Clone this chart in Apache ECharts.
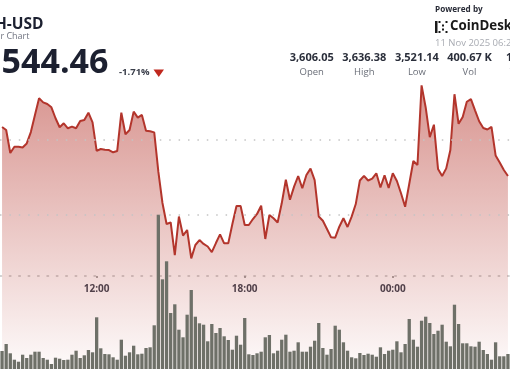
<!DOCTYPE html>
<html><head><meta charset="utf-8">
<script src="https://cdn.jsdelivr.net/npm/echarts@6/dist/echarts.min.js"></script>
<style>html,body{margin:0;padding:0;background:#fff;}#c{width:510px;height:369px;}</style>
</head><body><div id="c"></div>
<script>
// 10-minute samples starting 08:10
const startTime = '08:10';
const stepMinutes = 10;
const price = [
3608.7,3606.7,3591.3,3595.5,3595.5,3595.0,3597.7,3605.3,3616.7,3627.8,
3625.1,3624.0,3621.8,3614.5,3608.5,3611.1,3607.8,3608.9,3607.8,3612.7,
3613.3,3618.2,3611.8,3592.7,3594.0,3593.5,3593.3,3591.8,3592.7,3618.2,
3603.8,3606.7,3618.9,3614.9,3616.7,3606.2,3605.8,3605.1,3578.9,3558.0,
3544.0,3545.0,3523.3,3549.0,3536.3,3540.0,3521.1,3530.0,3533.3,3530.7,
3529.0,3525.3,3531.3,3537.1,3531.1,3531.1,3544.0,3556.0,3556.0,3543.3,
3543.3,3547.3,3550.7,3556.2,3534.0,3550.0,3547.8,3545.0,3557.8,3573.5,
3560.2,3568.9,3576.0,3567.8,3576.7,3580.9,3573.3,3549.0,3546.2,3540.7,
3535.1,3534.9,3542.2,3547.8,3542.0,3548.9,3557.3,3573.0,3576.1,3573.0,
3574.2,3577.8,3568.3,3576.5,3568.0,3577.8,3572.7,3564.5,3555.5,3570.7,
3586.0,3583.3,3636.4,3621.7,3601.9,3610.2,3580.7,3576.0,3581.1,3593.3,
3630.5,3610.8,3615.3,3625.5,3627.3,3619.8,3612.5,3608.0,3607.0,3608.7,
3589.7,3585.0,3580.0,3576.0
];
// volume in thousands
const volume = [
1.8,2.5,1.57,0.93,0.73,1.43,1.1,1.43,1.73,1.73,
1.1,0.93,0.5,1.13,1.03,0.9,0.93,1.43,1.83,1.1,
1.37,1.9,1.67,5.17,2.07,1.5,1.47,1.17,0.93,2.93,
1.33,1.67,2.33,1.47,1.53,2.1,2.17,4.37,15.43,8.97,
10.77,5.6,6.47,3.93,3.17,5.43,7.9,5.23,4.57,4.43,
2.77,4.5,3.6,4.1,3.27,2.9,1.93,3.33,2.43,5.1,
1.47,1.4,1.57,1.73,3.17,3.4,1.57,1.83,2.93,3.43,
1.73,1.83,2.67,1.73,1.73,2.23,2.83,4.6,2.1,1.43,
2.0,4.33,3.93,2.67,1.83,1.17,1.07,1.6,1.4,1.53,
1.43,1.23,2.17,1.5,1.83,1.93,2.77,1.67,2.5,5.0,
2.93,2.23,4.83,5.23,4.6,3.5,3.83,4.43,2.73,2.27,
6.43,4.5,2.57,2.57,2.27,2.23,2.73,1.9,1.5,0.93,
2.67,1.27,1.27,1.5
];
const tickLabels = ['12:00','18:00','00:00'];
const gridLines = [3550, 3600];
const stats = [['3,606.05','Open'],['3,636.38','High'],['3,521.14','Low'],['400.67 K','Vol'],['1.45 B','Value']];

const [sh, sm] = startTime.split(':').map(Number);
const times = price.map((_, i) => {
  const m = (sh * 60 + sm + i * stepMinutes) % 1440;
  return String(Math.floor(m / 60)).padStart(2, '0') + ':' + String(m % 60).padStart(2, '0');
});

const FONT = '"Open Sans", "Noto Sans", sans-serif';
function T(text, x, y, size, weight, color, align) {
  return { type: 'text', x: x, y: y, silent: true, z: 10,
    style: { text: text, font: weight + ' ' + size + 'px ' + FONT, fill: color, align: align || 'left', verticalAlign: 'top' } };
}
const graphics = [
  T('ETH-USD', 43.5, 16.8, 15.5, 'bold', '#1c2030', 'right'),
  T('ETH / US Dollar Chart', 29.5, 32.3, 9, 'normal', '#707480', 'right'),
  T('3,544.46', 108.5, 46.6, 34, 'bold', '#1c2030', 'right'),
  T('-1.71%', 119, 67.2, 9.5, 'bold', '#3a3e4a', 'left'),
  { type: 'polygon', silent: true, z: 10, shape: { points: [[153.5, 69.5], [164, 69.5], [158.75, 77]] }, style: { fill: '#c0281e' } },
  T('Powered by', 435, 5.6, 8.2, 'bold', '#2a2d38', 'left'),
  T('CoinDesk', 450, 19.8, 13.3, 'bold', '#1a1a1a', 'left'),
  T('11 Nov 2025 06:20 UTC', 435, 38.6, 9.5, 'normal', '#a8abb2', 'left'),
  { type: 'rect', silent: true, z: 10, shape: { x: 435, y: 21, width: 2.5, height: 12 }, style: { fill: '#1a1a1a' } },
  { type: 'rect', silent: true, z: 10, shape: { x: 438.5, y: 21, width: 2, height: 2 }, style: { fill: '#1a1a1a' } },
  { type: 'rect', silent: true, z: 10, shape: { x: 438.5, y: 31, width: 2, height: 2 }, style: { fill: '#1a1a1a' } },
  { type: 'rect', silent: true, z: 10, shape: { x: 442, y: 24.5, width: 2, height: 2 }, style: { fill: '#1a1a1a' } },
  { type: 'rect', silent: true, z: 10, shape: { x: 442, y: 28.5, width: 2, height: 2 }, style: { fill: '#1a1a1a' } },
  { type: 'rect', silent: true, z: 10, shape: { x: 445.5, y: 21, width: 2, height: 2 }, style: { fill: '#1a1a1a' } },
  { type: 'rect', silent: true, z: 10, shape: { x: 445.5, y: 31, width: 2, height: 2 }, style: { fill: '#1a1a1a' } }
];
stats.forEach((s, i) => {
  const cx = 311.7 + i * 52.6;
  graphics.push(T(s[0], cx, 52.8, 11, 'bold', '#2a2e3a', 'center'));
  graphics.push(T(s[1], cx, 66.8, 9.5, 'normal', '#6a6e78', 'center'));
});

const GL = -4.0, GR = -5.6;
const dotType = [1.5, 7.9];
const chart = echarts.init(document.getElementById('c'), null, { renderer: 'canvas' });
chart.setOption({
  animation: false,
  backgroundColor: '#ffffff',
  grid: [
    { left: GL, right: GR, top: 65, bottom: 0 },
    { left: GL, right: GR, top: 209, bottom: 0 },
    { left: GL, right: GR, top: 256, height: 20 }
  ],
  xAxis: [
    { type: 'category', gridIndex: 0, data: times, show: false, boundaryGap: true },
    { type: 'category', gridIndex: 1, data: times, show: false, boundaryGap: true },
    { type: 'category', gridIndex: 2, data: times, boundaryGap: true,
      axisLine: { show: true, lineStyle: { color: '#c2c2c2', width: 1.5, type: dotType } },
      axisTick: { show: true, alignWithLabel: true, interval: (i, v) => tickLabels.includes(v), length: 2, lineStyle: { color: '#8a8a8a', width: 1.5 } },
      axisLabel: { interval: (i, v) => tickLabels.includes(v), margin: 8, color: '#3d4350', fontSize: 10, fontWeight: 'bold', fontFamily: FONT },
      splitLine: { show: false } }
  ],
  yAxis: [
    { type: 'value', gridIndex: 0, min: 3447.333, max: 3650, show: false, splitLine: { show: false } },
    { type: 'value', gridIndex: 1, min: 0, max: 16, show: false, splitLine: { show: false } },
    { type: 'value', gridIndex: 2, min: 0, max: 1, show: false, splitLine: { show: false } }
  ],
  series: [
    { type: 'line', xAxisIndex: 0, yAxisIndex: 0, data: price.map(() => null), z: 1, silent: true,
      markLine: { silent: true, symbol: 'none', label: { show: false }, animation: false,
        lineStyle: { color: '#c4c4c4', width: 1.5, type: dotType },
        data: gridLines.map(v => ({ yAxis: v })) } },
    { type: 'line', xAxisIndex: 0, yAxisIndex: 0, data: price, symbol: 'none', z: 2,
      lineStyle: { color: '#b3352c', width: 2 },
      areaStyle: { origin: 'start', color: { type: 'linear', x: 0, y: 0, x2: 0, y2: 1,
        colorStops: [ { offset: 0, color: 'rgba(181,52,43,0.75)' }, { offset: 1, color: 'rgba(181,52,43,0.03)' } ] } } },
    { type: 'bar', xAxisIndex: 1, yAxisIndex: 1, data: volume, barWidth: 3.3, z: 3,
      itemStyle: { color: '#6e7068' } }
  ],
  graphic: graphics
});
</script>
</body></html>
